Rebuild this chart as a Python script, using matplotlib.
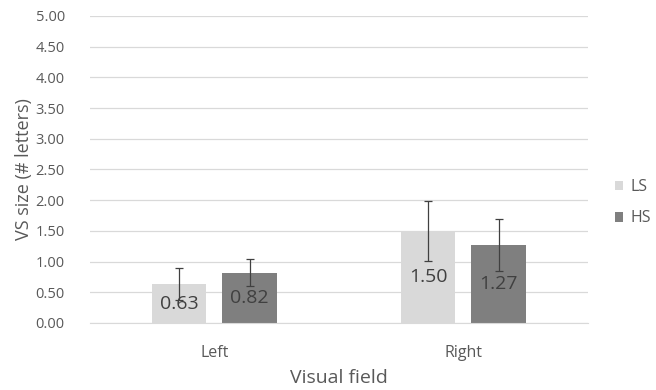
import numpy as np
import matplotlib.pyplot as plt

plt.rcParams['font.family'] = ['Open Sans', 'DejaVu Sans']

# data
fields = ["Left", "Right"]
groups = ["LS", "HS"]
ls_vals = [0.63, 1.50]
hs_vals = [0.82, 1.27]
ls_err = [0.26, 0.49]
hs_err = [0.22, 0.42]
yticks = [0.0, 0.5, 1.0, 1.5, 2.0, 2.5, 3.0, 3.5, 4.0, 4.5, 5.0]

c_ls = "#d9d9d9"
c_hs = "#7f7f7f"
txt = "#595959"

fig = plt.figure(figsize=(6.56, 3.9), dpi=100)
ax = fig.add_axes([0.137, 0.172, 0.759, 0.787])

x = np.arange(len(fields))
w = 0.22
gap = 0.032
xl = x - w / 2 - gap
xh = x + w / 2 + gap

ax.bar(xl, ls_vals, w, color=c_ls, label=groups[0], zorder=2)
ax.bar(xh, hs_vals, w, color=c_hs, label=groups[1], zorder=2)
ax.errorbar(xl, ls_vals, yerr=ls_err, fmt="none", ecolor="#404040",
            elinewidth=0.9, capsize=3, capthick=0.9, zorder=3)
ax.errorbar(xh, hs_vals, yerr=hs_err, fmt="none", ecolor="#404040",
            elinewidth=0.9, capsize=3, capthick=0.9, zorder=3)

for xs, vals in [(xl, ls_vals), (xh, hs_vals)]:
    for xi, v in zip(xs, vals):
        ax.text(xi, v / 2, "%.2f" % v, ha="center", va="center",
                fontsize=14, color="#404040", zorder=4)

ax.set_xlim(-0.5, 1.5)
ax.set_ylim(0, 5)
ax.set_yticks(yticks)
ax.set_yticklabels(["%.2f" % t for t in yticks])
ax.set_xticks(x)
ax.set_xticklabels(fields)
ax.yaxis.grid(True, color="#d9d9d9", linewidth=0.9, zorder=0)
ax.set_axisbelow(True)
for s in ["top", "right", "left"]:
    ax.spines[s].set_visible(False)
ax.spines["bottom"].set_color("#d9d9d9")
ax.tick_params(axis="y", length=0, colors=txt, labelsize=10.5, pad=18)
ax.tick_params(axis="x", length=0, colors=txt, labelsize=11.5, pad=16)

ax.set_ylabel("VS size (# letters)", fontsize=13, color=txt, labelpad=2)
ax.set_xlabel("Visual field", fontsize=14, color=txt, labelpad=6)

leg = fig.legend(loc="center left", bbox_to_anchor=(0.937, 0.48), frameon=False,
                 fontsize=11.5, handlelength=0.55, handleheight=0.55,
                 handletextpad=0.45, labelspacing=0.95,
                 borderpad=0, borderaxespad=0)
for t in leg.get_texts():
    t.set_color(txt)

plt.savefig("out.png", dpi=100)
